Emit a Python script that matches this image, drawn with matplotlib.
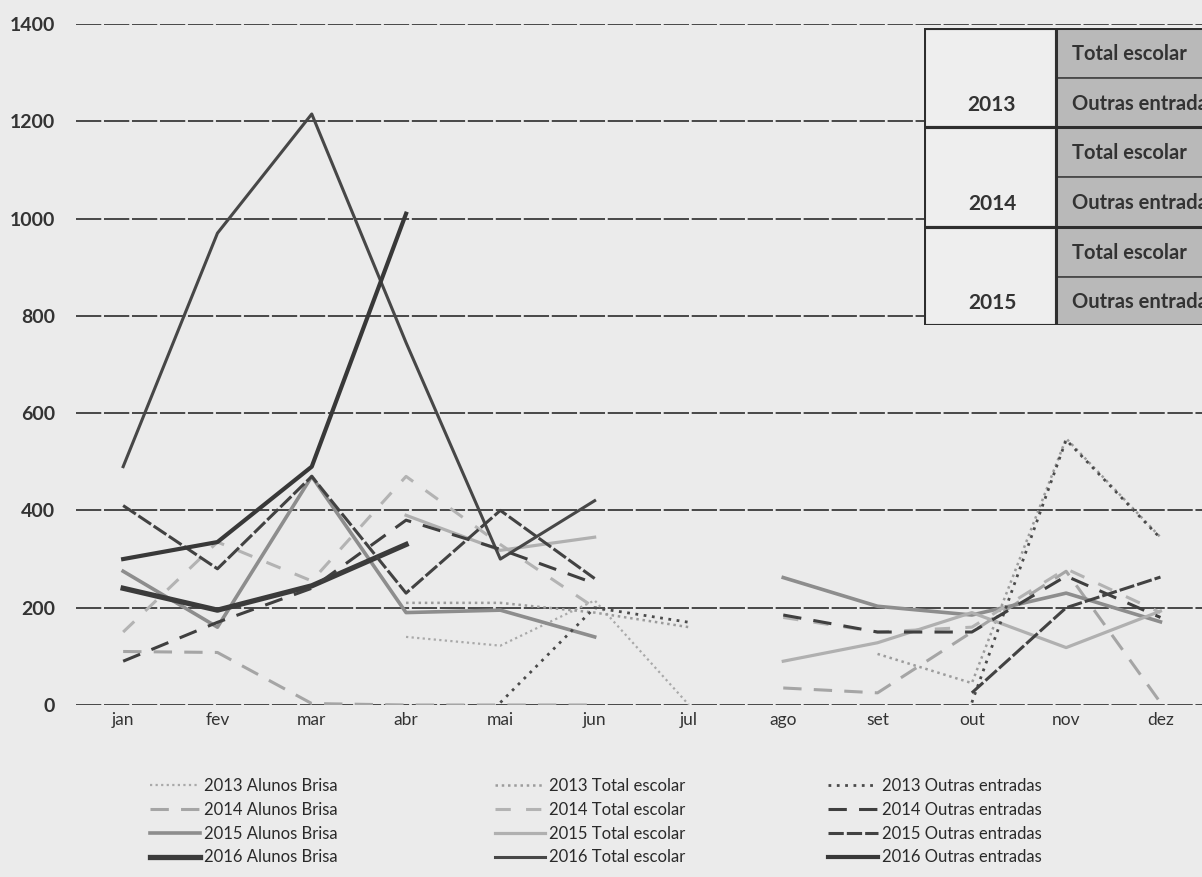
import numpy as np
import matplotlib.pyplot as plt
from matplotlib.lines import Line2D
from matplotlib.patches import Rectangle

plt.rcParams['font.family'] = ['Lato', 'DejaVu Sans']

meses = ['jan', 'fev', 'mar', 'abr', 'mai', 'jun', 'jul', 'ago', 'set', 'out', 'nov', 'dez']

# valores (None = sem dados)
alunos_2013 = [None, None, None, 140, 122, 215, 0, None, None, None, None, None]
alunos_2014 = [110, 108, 3, 0, 0, 0, None, 35, 25, 150, 275, 5]
alunos_2015 = [275, 160, 470, 190, 195, 140, None, 262, 203, 185, 230, 171]
alunos_2016 = [240, 195, 245, 330, None, None, None, None, None, None, None, None]

total_2013 = [None, None, None, 210, 210, 190, 160, None, 105, 45, 548, 345]
total_2014 = [150, 335, 255, 470, 330, 200, None, 180, 150, 160, 280, 190]
total_2015 = [None, None, None, 390, 318, 345, None, 90, 128, 190, 118, 193]
total_2016 = [490, 970, 1215, 745, 300, 420, None, None, None, None, None, None]

outras_2013 = [None, None, None, None, 5, 200, 170, None, None, 5, 545, 343]
outras_2014 = [90, 170, 240, 380, 320, 250, None, 185, 150, 150, 265, 180]
outras_2015 = [410, 280, 470, 230, 400, 260, None, None, None, 25, 200, 263]
outras_2016 = [300, 335, 490, 1010, None, None, None, None, None, None, None, None]

anos_tabela = ['2013', '2014', '2015']
linhas_tabela = ['Total escolar', 'Outras entradas']

bg = '#ebebeb'
fig = plt.figure(figsize=(12.02, 8.77), dpi=100, facecolor=bg)
ax = fig.add_axes([76 / 1202, 1 - 705 / 877, 1131.6 / 1202, 681 / 877])
ax.set_facecolor(bg)

x = np.arange(12)

series = [
    # col 1
    ('2013 Alunos Brisa', alunos_2013, dict(color='#a9a9a9', ls=(0, (1, 1.5)), lw=1.6)),
    ('2014 Alunos Brisa', alunos_2014, dict(color='#a5a5a5', ls=(0, (6, 4)), lw=2.2)),
    ('2015 Alunos Brisa', alunos_2015, dict(color='#8d8d8d', ls='-', lw=2.6)),
    ('2016 Alunos Brisa', alunos_2016, dict(color='#3b3b3b', ls='-', lw=3.8)),
    # col 2
    ('2013 Total escolar', total_2013, dict(color='#9c9c9c', ls=(0, (1, 1.5)), lw=1.8)),
    ('2014 Total escolar', total_2014, dict(color='#b3b3b3', ls=(0, (5, 5)), lw=2.2)),
    ('2015 Total escolar', total_2015, dict(color='#b0b0b0', ls='-', lw=2.3)),
    ('2016 Total escolar', total_2016, dict(color='#474747', ls='-', lw=2.2)),
    # col 3
    ('2013 Outras entradas', outras_2013, dict(color='#4a4a4a', ls=(0, (1, 2)), lw=2.0)),
    ('2014 Outras entradas', outras_2014, dict(color='#3f3f3f', ls=(0, (6, 4)), lw=2.2)),
    ('2015 Outras entradas', outras_2015, dict(color='#424242', ls=(0, (5, 1)), lw=2.2)),
    ('2016 Outras entradas', outras_2016, dict(color='#383838', ls='-', lw=3.0)),
]

handles = []
for nome, vals, st in series:
    y = np.array(vals, dtype=float)
    ax.plot(x, y, **st, zorder=3)
    handles.append(Line2D([], [], **st))

ax.set_xlim(-0.5, 11.5)
ax.set_ylim(0, 1400)
ax.set_yticks(range(0, 1401, 200))
ax.set_xticks(x)
ax.set_xticklabels(meses)
ax.grid(axis='y', color='#3a3a3a', lw=1.3, ls=(0, (14, 1.5)), zorder=1)
for s in ax.spines.values():
    s.set_visible(False)
ax.tick_params(axis='y', length=0, pad=15, labelsize=14, labelcolor='#333333')
ax.tick_params(axis='x', length=0, pad=5, labelsize=12.5, labelcolor='#333333')
for t in ax.get_yticklabels():
    t.set_fontweight('bold')

# tabela no canto superior direito (cortada pela margem, como no original)
tab = fig.add_axes([924 / 1202, 1 - 325 / 877, 300 / 1202, 297 / 877])
tab.set_xlim(0, 300)
tab.set_ylim(297, 0)
tab.axis('off')
rows = [0, 50, 99, 149, 199, 249, 297]
for i, ano in enumerate(anos_tabela):
    top, mid, bot = rows[2 * i], rows[2 * i + 1], rows[2 * i + 2]
    tab.add_patch(Rectangle((0, top), 132, bot - top, facecolor='#eeeeee',
                            edgecolor='#2e2e2e', lw=2.2, zorder=2))
    tab.text(68, (mid + bot) / 2 + 2, ano, ha='center', va='center',
             fontsize=15, fontweight='bold', color='#333333', zorder=4)
    for j, (a, b) in enumerate([(top, mid), (mid, bot)]):
        tab.add_patch(Rectangle((132, a), 200, b - a, facecolor='#b9b9b9',
                                edgecolor='#4a4a4a', lw=1.3, zorder=2))
        tab.text(148, (a + b) / 2 + 1, linhas_tabela[j], ha='left', va='center',
                 fontsize=14.5, fontweight='bold', color='#333333', zorder=4)
    tab.plot([0, 300], [top, top], color='#2e2e2e', lw=2.2, zorder=3)
tab.plot([0, 300], [297, 297], color='#2e2e2e', lw=2.2, zorder=3)
tab.plot([132, 132], [0, 297], color='#2e2e2e', lw=2.2, zorder=3)

# legenda em tres colunas
cols_x = [150, 495, 828]
for c in range(3):
    fig.legend(handles[4 * c:4 * c + 4], [s[0] for s in series[4 * c:4 * c + 4]],
               loc='upper left', bbox_to_anchor=(cols_x[c] / 1202, 1 - 778 / 877),
               frameon=False, fontsize=12, handlelength=3.0, handletextpad=0.25,
               labelspacing=0.47, borderpad=0, borderaxespad=0, labelcolor='#2a2a2a')

fig.savefig('out.png', dpi=100, facecolor=bg)
